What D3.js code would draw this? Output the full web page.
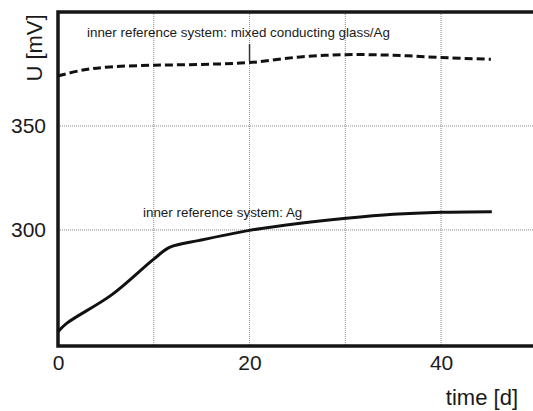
<!DOCTYPE html>
<html>
<head>
<meta charset="utf-8">
<script src="https://cdn.jsdelivr.net/npm/d3@7"></script>
<style>
  body { margin: 0; background: #fff; }
  text { font-family: "Liberation Sans", Arial, sans-serif; fill: #1a1a1a; }
</style>
</head>
<body>
<div id="chart"></div>
<script>
// values
const xTicks = [0, 20, 40];
const yTicks = [300, 350];
const xGrid = [10, 20, 30, 40];
const yGrid = [300, 350];

const agTime = [0, 0.9, 5.6, 10, 11.7, 14.8, 20, 25.3, 30.1, 35, 40, 45.3];
const agU = [251.1, 255.1, 268.8, 286.0, 291.7, 295.0, 299.8, 303.2, 305.6, 307.5, 308.5, 308.8];

const glassTime = [0, 2.6, 5.4, 10, 15, 20, 25.3, 30, 35, 40, 45.2];
const glassU = [374.0, 376.9, 378.4, 379.2, 379.6, 380.5, 383.2, 384.3, 384.0, 382.9, 382.1];

const labelGlass = 'inner reference system: mixed conducting glass/Ag';
const labelAg = 'inner reference system: Ag';

const width = 533;
const height = 411;
const plotLeft = 58, plotTop = 12, plotBottom = 346;

const xScale = d3.scaleLinear().domain([0, 49.6]).range([plotLeft, width]);
const yScale = d3.scaleLinear().domain([244.2, 404.8]).range([plotBottom, plotTop]);

const svg = d3.select('#chart').append('svg')
    .attr('width', width)
    .attr('height', height);

// grid
svg.append('g').selectAll('line')
    .data(xGrid)
    .enter().append('line')
    .attr('x1', d => xScale(d)).attr('x2', d => xScale(d))
    .attr('y1', plotTop).attr('y2', plotBottom)
    .attr('stroke', '#8a8a8a').attr('stroke-width', 1)
    .attr('stroke-dasharray', '1,1');

svg.append('g').selectAll('line')
    .data(yGrid)
    .enter().append('line')
    .attr('x1', plotLeft).attr('x2', width)
    .attr('y1', d => yScale(d)).attr('y2', d => yScale(d))
    .attr('stroke', '#8a8a8a').attr('stroke-width', 1)
    .attr('stroke-dasharray', '1,1');

// axes (labels only), frame drawn separately
const xAxis = svg.append('g')
    .attr('transform', `translate(0,${plotBottom})`)
    .call(d3.axisBottom(xScale).tickValues(xTicks).tickSize(0).tickPadding(9));
xAxis.select('.domain').remove();
xAxis.selectAll('text').style('font-size', '21px').style('font-family', '"Liberation Sans", Arial, sans-serif').attr('fill', '#1a1a1a');

const yAxis = svg.append('g')
    .attr('transform', `translate(${plotLeft},0)`)
    .call(d3.axisLeft(yScale).tickValues(yTicks).tickSize(0).tickPadding(12));
yAxis.select('.domain').remove();
yAxis.selectAll('text').style('font-size', '21px').style('font-family', '"Liberation Sans", Arial, sans-serif').attr('fill', '#1a1a1a');

// frame
const frame = svg.append('g').attr('stroke', '#161616').attr('stroke-width', 3.5).attr('fill', 'none');
frame.append('path').attr('d', `M${width},${plotTop}H${plotLeft}V${plotBottom}H${width}`);

// curves
const line = d3.line()
    .x(d => xScale(d[0]))
    .y(d => yScale(d[1]))
    .curve(d3.curveCatmullRom.alpha(0.5));

svg.append('path')
    .datum(agTime.map((t, i) => [t, agU[i]]))
    .attr('d', line)
    .attr('fill', 'none')
    .attr('stroke', '#111')
    .attr('stroke-width', 3);

svg.append('path')
    .datum(glassTime.map((t, i) => [t, glassU[i]]))
    .attr('d', line)
    .attr('fill', 'none')
    .attr('stroke', '#111')
    .attr('stroke-width', 3)
    .attr('stroke-dasharray', '8,4');

// annotations
svg.append('text')
    .attr('x', 87).attr('y', 37)
    .style('font-size', '13.4px')
    .text(labelGlass);

svg.append('line')
    .attr('x1', xScale(20)).attr('x2', xScale(20))
    .attr('y1', 44).attr('y2', 61)
    .attr('stroke', '#333').attr('stroke-width', 1.5);

svg.append('text')
    .attr('x', 143).attr('y', 217)
    .style('font-size', '13.4px')
    .text(labelAg);

// axis titles
svg.append('text')
    .attr('transform', 'translate(42,48) rotate(-90)')
    .attr('text-anchor', 'middle')
    .style('font-size', '22px')
    .text('U [mV]');

svg.append('text')
    .attr('x', 518).attr('y', 405)
    .attr('text-anchor', 'end')
    .style('font-size', '22px')
    .text('time [d]');
</script>
</body>
</html>
